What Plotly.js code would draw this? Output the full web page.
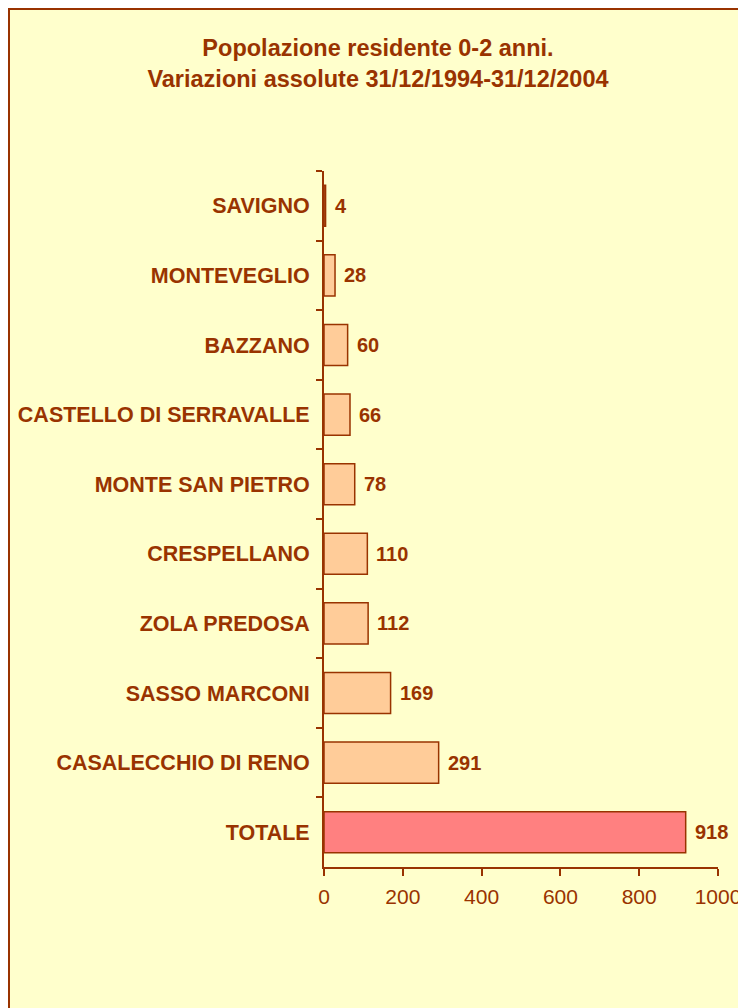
<!DOCTYPE html>
<html>
<head>
<meta charset="utf-8">
<script src="https://cdn.plot.ly/plotly-3.0.1.min.js"></script>
<style>html,body{margin:0;padding:0;background:#fff;}#chart{width:738px;height:1008px;}</style>
</head>
<body>
<div id="chart"></div>
<script>
// Data (top to bottom as shown)
var comuni = ["SAVIGNO", "MONTEVEGLIO", "BAZZANO", "CASTELLO DI SERRAVALLE", "MONTE SAN PIETRO",
              "CRESPELLANO", "ZOLA PREDOSA", "SASSO MARCONI", "CASALECCHIO DI RENO", "TOTALE"];
var variazioni = [4, 28, 60, 66, 78, 110, 112, 169, 291, 918];
var xTicks = [0, 200, 400, 600, 800, 1000];

var BROWN = "#993300";
var PEACH = "#FFCC99";
var RED = "#FF8080";
var BG = "#FFFFCC";
var FONT = "Liberation Sans, Arial, sans-serif";

var W = 738, H = 1008;
var M = {l: 324, r: 20, t: 171, b: 141};
var pw = W - M.l - M.r, ph = H - M.t - M.b;
function px2x(p) { return (p - M.l) / pw; }
function py2y(p) { return (H - M.b - p) / ph; }

var trace = {
  type: "bar",
  orientation: "h",
  y: comuni,
  x: variazioni,
  marker: {
    color: comuni.map(function (c) { return c === "TOTALE" ? RED : PEACH; }),
    line: {color: BROWN, width: 1.5}
  },
  hoverinfo: "none"
};

var annotations = comuni.map(function (c, i) {
  return {
    x: variazioni[i], y: c, xref: "x", yref: "y",
    text: String(variazioni[i]), showarrow: false,
    xanchor: "left", yanchor: "middle", xshift: 7,
    font: {family: FONT, size: 20, color: BROWN, weight: "bold"}
  };
});

var layout = {
  width: W, height: H,
  margin: M,
  paper_bgcolor: "#FFFFFF",
  plot_bgcolor: "rgba(0,0,0,0)",
  showlegend: false,
  bargap: 0.41,
  title: {
    text: "Popolazione residente 0-2 anni.<br>Variazioni assolute 31/12/1994-31/12/2004",
    font: {family: FONT, size: 23.5, color: BROWN, weight: "bold"},
    xref: "container", yref: "container",
    x: 378 / W, xanchor: "center",
    y: 1 - 56 / H, yanchor: "top"
  },
  xaxis: {
    range: [0, 1000],
    tickvals: xTicks,
    ticktext: xTicks.map(String),
    ticks: "outside", ticklen: 7, tickwidth: 2, tickcolor: BROWN,
    showline: true, linecolor: BROWN, linewidth: 2,
    showgrid: false, zeroline: false,
    ticklabeloverflow: "allow",
    ticklabelstandoff: 3,
    tickfont: {family: FONT, size: 21, color: BROWN},
    fixedrange: true
  },
  yaxis: {
    type: "category",
    autorange: "reversed",
    tickson: "boundaries",
    ticks: "outside", ticklen: 6, tickwidth: 2, tickcolor: BROWN,
    showline: true, linecolor: BROWN, linewidth: 2,
    showgrid: false, zeroline: false,
    ticklabelstandoff: 8,
    tickfont: {family: FONT, size: 21.5, color: BROWN, weight: "bold"},
    fixedrange: true
  },
  shapes: [{
    type: "rect", layer: "below",
    xref: "paper", yref: "paper",
    x0: px2x(9), x1: px2x(W + 40),
    y0: py2y(H + 40), y1: py2y(9),
    fillcolor: BG,
    line: {color: BROWN, width: 2}
  }],
  annotations: annotations
};

Plotly.newPlot("chart", [trace], layout, {displayModeBar: false, staticPlot: true});
</script>
</body>
</html>
